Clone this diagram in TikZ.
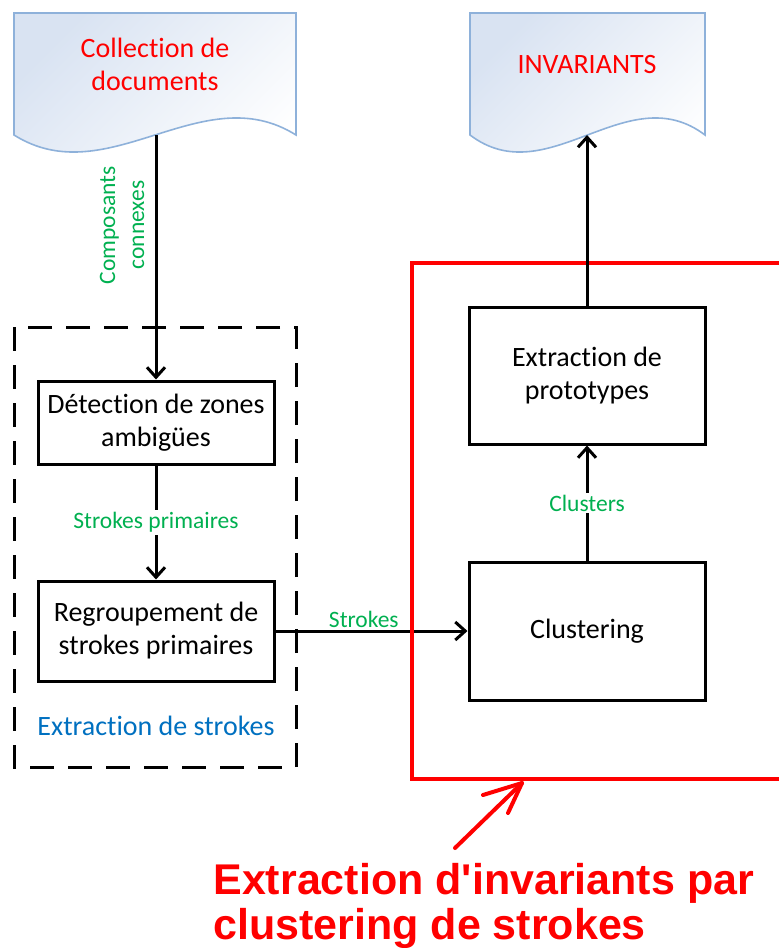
\documentclass[tikz,border=0pt]{standalone}
\usepackage{fontspec}
\setmainfont{Carlito}[Ligatures={NoCommon,NoContextual}, Contextuals=NoAlternate]
\newfontfamily\capfont{Liberation Sans}
\usetikzlibrary{arrows.meta}

\definecolor{docfill}{HTML}{D9E3F2}
\definecolor{docline}{HTML}{8EB1DA}
\definecolor{lblgreen}{HTML}{00B050}
\definecolor{grpblue}{HTML}{0070C0}
\definecolor{hlred}{HTML}{FF0000}

\tikzset{
  box/.style={draw, line width=1.5pt, minimum width=118pt, align=center, inner sep=2pt,
    font=\fontsize{14}{16.5}\selectfont},
  doc/.style={draw=docline, line width=0.8pt, top color=docfill, bottom color=white, shading angle=45},
  doctext/.style={text=hlred, align=center, font=\fontsize{14}{16.5}\selectfont},
  flow/.style={line width=1.5pt, -{Straight Barb[length=5pt,width=9pt]}},
  lbl/.style={text=lblgreen, align=center, inner sep=1pt, font=\fontsize{11.75}{14.5}\selectfont},
  grpbox/.style={line width=1.5pt, dash pattern=on 12pt off 7pt},
  grptext/.style={text=grpblue, font=\fontsize{14}{16.5}\selectfont},
  hlbox/.style={draw=hlred, line width=2pt},
  hand/.style={draw=hlred, line width=2pt, line cap=round, line join=round},
  caption/.style={anchor=north west, inner sep=0pt, align=left, text=hlred,
    font=\capfont\bfseries\fontsize{21.5}{22.5}\selectfont},
}

\begin{document}
\begin{tikzpicture}[x=0.5pt, y=-0.5pt]
    \useasboundingbox (0,0) rectangle (779,948);
    \clip (0,0) rectangle (779,948);

    % Documents
    \path[doc] (14,13) -- (296,13) -- (296,135)
      .. controls (202,76) and (108,194) .. (14,135) -- cycle;
    \node[doctext] (coll) at (155,64) {Collection de\\documents};
    \coordinate (coll-bot) at (156,135);

    \path[doc] (470,13) -- (705,13) -- (705,135)
      .. controls (627,76) and (548,194) .. (470,135) -- cycle;
    \node[doctext] (inv) at (587,65) {INVARIANTS};
    \coordinate (inv-bot) at (587,135);

    % Extraction de strokes
    \draw[grpbox] (14,327) rectangle (296,767);
    \node[box, minimum height=41.5pt] (detect) at (156,422.5) {Détection de zones\\ambigües};
    \node[box, minimum height=50pt] (regroup) at (156,631) {Regroupement de\\strokes primaires};
    \node[grptext] (grp) at (156,726) {Extraction de strokes};

    % Clustering
    \node[box, minimum height=68.5pt] (proto) at (587,375.5) {Extraction de\\prototypes};
    \node[box, minimum height=69pt] (clust) at (587,631) {Clustering};

    % Fleches
    \draw[flow] (coll-bot) -- (detect.north);
    \node[lbl, rotate=90] (cc) at (122,225) {Composants\\connexes};
    \draw[flow] (detect) -- node[lbl, fill=white] (sp) {Strokes primaires} (regroup);
    \draw[flow] (regroup) -- node[lbl, above, pos=0.46] (st) {Strokes} (clust);
    \draw[flow] (clust) -- node[lbl, fill=white] (cl) {Clusters} (proto);

    % Cadre rouge
    \draw[hlbox] (412,263) rectangle (830,779);
    \draw[flow] (proto) -- (inv-bot);

    % Fleche a main levee
    \coordinate (pt-tail) at (455,848);
    \coordinate (pt-tip) at (522,783);
    \draw[hand] (pt-tail) -- (pt-tip);
    \draw[hand] (483,795) -- (pt-tip) -- (508,813);

    \node[caption] (cap) at (213,863) {Extraction d\textquotesingle invariants par\\clustering de strokes};

\end{tikzpicture}
\end{document}
